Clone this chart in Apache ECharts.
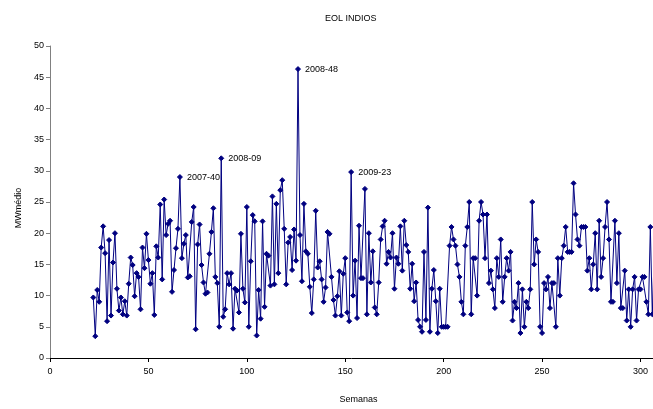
<!DOCTYPE html>
<html>
<head>
<meta charset="utf-8">
<script src="https://cdn.jsdelivr.net/npm/echarts@6/dist/echarts.min.js"></script>
<style>
html,body{margin:0;padding:0;background:#fff;}
#chart{width:653px;height:409px;}
</style>
</head>
<body>
<div id="chart"></div>
<script>
// ---- data ----
const chartTitle = 'EOL INDIOS';
const xAxisTitle = 'Semanas';
const yAxisTitle = 'MWmédio';
const firstWeek = 22;
const values = [
  9.7, 3.5, 10.9, 9.0, 17.7, 21.1, 16.8, 5.9, 18.9, 6.8,
  15.3, 20.0, 11.1, 7.6, 9.7, 7.0, 9.1, 6.8, 11.9, 16.1,
  14.9, 9.9, 13.6, 13.0, 7.8, 17.7, 14.4, 19.9, 15.7, 11.9,
  13.6, 6.9, 17.9, 16.1, 24.6, 12.6, 25.4, 19.7, 21.5, 22.0,
  10.6, 14.1, 17.6, 20.7, 29.0, 16.0, 18.3, 19.7, 12.9, 13.1,
  21.8, 24.2, 4.6, 18.2, 21.4, 14.9, 12.1, 10.3, 10.5, 16.7,
  20.2, 24.0, 13.0, 12.0, 5.0, 32.0, 6.6, 7.8, 13.6, 11.8,
  13.6, 4.7, 11.1, 10.8, 7.3, 19.9, 11.1, 8.9, 24.2, 5.0,
  15.5, 22.9, 21.9, 3.6, 10.9, 6.3, 21.9, 8.2, 16.7, 16.4,
  11.6, 25.9, 11.8, 24.7, 13.6, 26.9, 28.5, 20.7, 11.8, 18.5,
  19.4, 14.1, 20.6, 15.6, 46.3, 19.7, 12.3, 24.7, 17.1, 16.7,
  11.4, 7.2, 12.6, 23.6, 14.5, 15.5, 12.6, 9.0, 11.3, 20.2,
  19.9, 13.0, 9.3, 6.8, 9.9, 13.9, 6.8, 13.5, 16.0, 7.3,
  5.9, 29.8, 10.0, 15.6, 6.4, 21.2, 12.8, 12.8, 27.1, 7.0,
  20.0, 12.1, 17.1, 8.1, 7.0, 12.1, 19.0, 21.1, 22.0, 15.1,
  17.0, 16.1, 20.0, 11.1, 16.1, 15.1, 21.1, 14.0, 22.0, 18.1,
  17.0, 11.1, 15.1, 9.1, 12.1, 6.1, 5.0, 4.2, 17.0, 6.1,
  24.1, 4.2, 11.1, 14.1, 9.1, 4.0, 11.1, 5, 5, 5,
  5, 18, 21, 19, 18, 15, 13, 9, 7, 18,
  21, 25, 7, 16, 16, 10, 22, 25, 23, 16,
  23, 12, 14, 11, 8, 16, 13, 19, 9, 13,
  16, 14, 17, 6, 9, 8, 12, 4, 11, 5,
  9, 8, 11, 25, 15, 19, 17, 5, 4, 12,
  11, 13, 8, 12, 12, 5, 16, 10, 16, 18,
  21, 17, 17, 17, 28, 23, 19, 18, 21, 21,
  21, 14, 16, 11, 15, 20, 11, 22, 13, 16,
  21, 25, 19, 9, 9, 22, 12, 20, 8, 8,
  14, 6, 11, 5, 11, 13, 6, 11, 11, 13,
  13, 9, 7, 21, 7, 17
];
const peakWeeks = [66, 87, 126, 153];
const peakLabels = ['2007-40', '2008-09', '2008-48', '2009-23'];
const xTicks = [0, 50, 100, 150, 200, 250, 300];
const yTicks = [0, 5, 10, 15, 20, 25, 30, 35, 40, 45, 50];

// ---- build ----
const FONT = 'Liberation Sans, Arial, sans-serif';
const seriesData = values.map(function (v, i) {
  const w = firstWeek + i;
  const k = peakWeeks.indexOf(w);
  if (k >= 0) {
    return {
      value: [w, v],
      label: {
        show: true, position: 'right', distance: 4,
        formatter: peakLabels[k],
        fontSize: 9, color: '#000', fontFamily: FONT
      }
    };
  }
  return [w, v];
});

const chart = echarts.init(document.getElementById('chart'), null, {renderer: 'canvas'});
chart.setOption({
  animation: false,
  backgroundColor: '#fff',
  title: {
    text: chartTitle, left: 320, top: 9,
    textStyle: {fontSize: 9, fontWeight: 'normal', color: '#000', fontFamily: FONT}
  },
  grid: {left: 50, right: 0, top: 46, bottom: 46, containLabel: false},
  xAxis: {
    type: 'value', min: xTicks[0], max: 306.35, interval: 50,
    name: xAxisTitle, nameLocation: 'middle', nameGap: 37,
    nameTextStyle: {fontSize: 9, color: '#000', fontFamily: FONT, padding: [0, 0, 0, 14]},
    axisLine: {show: true, lineStyle: {color: '#000', width: 1}},
    axisTick: {show: true, inside: false, length: 4, lineStyle: {color: '#000'}},
    axisLabel: {
      fontSize: 9, color: '#000', fontFamily: FONT, margin: 9,
      showMaxLabel: false,
      formatter: function (v) { return xTicks.indexOf(v) >= 0 ? String(v) : ''; }
    },
    splitLine: {show: false}
  },
  yAxis: {
    type: 'value', min: yTicks[0], max: yTicks[yTicks.length - 1], interval: 5,
    name: yAxisTitle, nameLocation: 'middle', nameGap: 26, nameRotate: 90,
    nameTextStyle: {fontSize: 9, color: '#000', fontFamily: FONT, padding: [0, 12, 0, 0]},
    axisLine: {show: true, lineStyle: {color: '#808080', width: 1}},
    axisTick: {show: true, inside: false, length: 4, lineStyle: {color: '#808080'}},
    axisLabel: {fontSize: 9, color: '#000', fontFamily: FONT, margin: 6},
    splitLine: {show: false}
  },
  series: [{
    type: 'line',
    data: seriesData,
    symbol: 'diamond',
    symbolSize: 5,
    showAllSymbol: true,
    clip: true,
    lineStyle: {color: '#000080', width: 1},
    itemStyle: {color: '#000080', borderColor: '#000080'},
    emphasis: {disabled: true}
  }]
});
</script>
</body>
</html>
